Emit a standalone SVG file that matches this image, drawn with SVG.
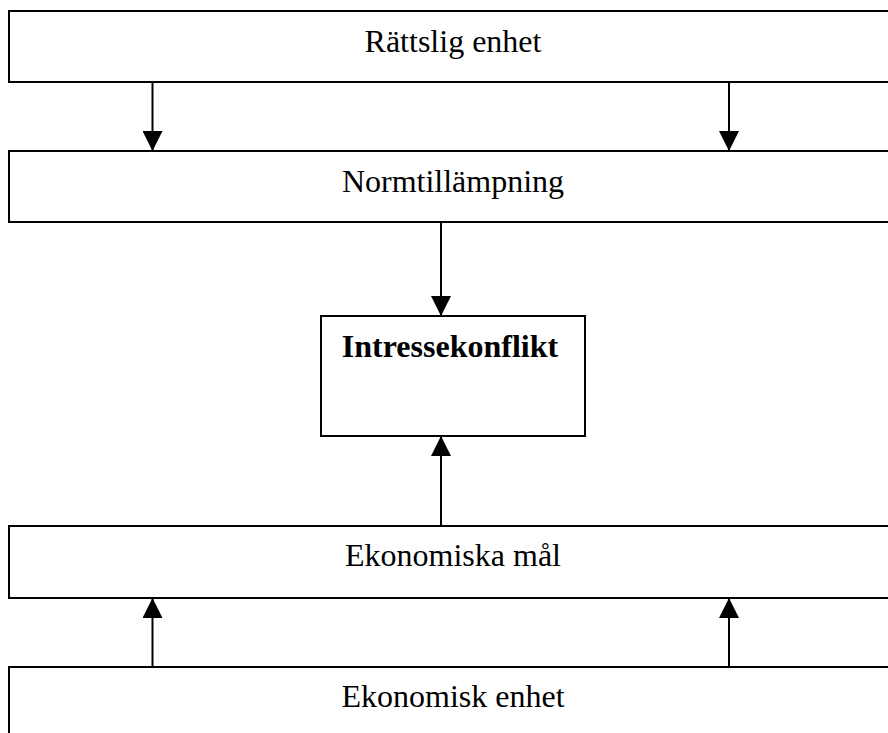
<svg xmlns="http://www.w3.org/2000/svg" width="888" height="733" viewBox="0 0 888 733">
<style>
.box{fill:#fff;stroke:#000;stroke-width:2}
.lbl{font-family:"Liberation Serif","Times New Roman",serif;font-size:32px;fill:#000;text-anchor:middle}
.bold{font-weight:bold}
.conn{stroke:#000;stroke-width:2;fill:none;marker-end:url(#ah)}
</style>
<defs>
<marker id="ah" viewBox="0 0 20 20" refX="20" refY="10" markerWidth="20" markerHeight="20" markerUnits="userSpaceOnUse" orient="auto">
<path d="M0,0 L20,10 L0,20 z" fill="#000"/>
</marker>
</defs>
<rect width="888" height="733" fill="#fff"/>
<g id="rattslig-enhet">
<rect class="box" x="9" y="11" width="900" height="71"/>
<text class="lbl" x="453" y="52">Rättslig enhet</text>
</g>
<g id="normtillampning">
<rect class="box" x="9" y="151" width="900" height="71"/>
<text class="lbl" x="453" y="192">Normtillämpning</text>
</g>
<g id="intressekonflikt">
<rect class="box" x="321" y="316" width="264" height="120"/>
<text class="lbl bold" x="450" y="357">Intressekonflikt</text>
</g>
<g id="ekonomiska-mal">
<rect class="box" x="9" y="526" width="900" height="72"/>
<text class="lbl" x="453" y="566">Ekonomiska mål</text>
</g>
<g id="ekonomisk-enhet">
<rect class="box" x="9" y="667" width="900" height="100"/>
<text class="lbl" x="453" y="707">Ekonomisk enhet</text>
</g>
<g id="connectors">
<line class="conn" x1="152.5" y1="82" x2="152.5" y2="151"/>
<line class="conn" x1="729" y1="82" x2="729" y2="151"/>
<line class="conn" x1="441" y1="222" x2="441" y2="316"/>
<line class="conn" x1="441" y1="526" x2="441" y2="436"/>
<line class="conn" x1="152.5" y1="667" x2="152.5" y2="598"/>
<line class="conn" x1="729" y1="667" x2="729" y2="598"/>
</g>
</svg>
